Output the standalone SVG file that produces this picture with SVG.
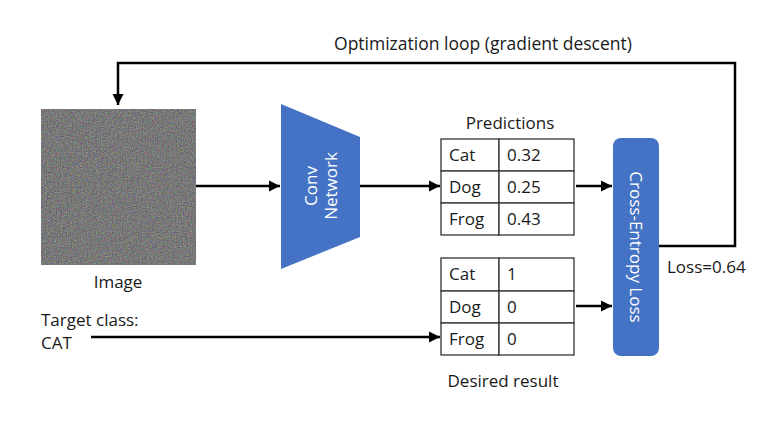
<svg xmlns="http://www.w3.org/2000/svg" width="782" height="437" viewBox="0 0 782 437">
<defs>
<style>
text{font-family:"Open Sans","Noto Sans",sans-serif;font-size:17px;fill:#1a1a1a}
.big{font-size:17.5px}
.w{fill:#fff}
.cell{fill:#fff;stroke:#333;stroke-width:1.3}
.ln{fill:none;stroke:#000;stroke-width:2.5}
.blue{fill:#4472C4}
</style>
<marker id="ah" viewBox="0 0 10 10" refX="10" refY="5" markerWidth="4.6" markerHeight="4.6" orient="auto" markerUnits="strokeWidth">
<path d="M0,0 L10,5 L0,10 z" fill="#000"/>
</marker>
<filter id="noise" x="0" y="0" width="100%" height="100%" color-interpolation-filters="sRGB">
<feTurbulence type="fractalNoise" baseFrequency="0.8" numOctaves="2" seed="3" result="t"/>
<feColorMatrix in="t" type="matrix" values="0.5 0 0 0 0.22  0 0.5 0 0 0.22  0 0 0.5 0 0.22  0 0 0 0 1"/>
</filter>
</defs>
<rect width="782" height="437" fill="#fff"/>
<text class="big" x="483" y="50" text-anchor="middle">Optimization loop (gradient descent)</text>
<g id="image">
<rect x="41" y="109" width="155" height="156" fill="#7a7a7a"/>
<rect x="41" y="109" width="155" height="156" filter="url(#noise)"/>
<text x="118" y="288" text-anchor="middle">Image</text>
</g>
<g id="conv">
<polygon class="blue" points="281,104 360,137 360,237 281,269"/>
<text class="w" transform="translate(320,186) rotate(-90)" text-anchor="middle"><tspan x="0" y="-3">Conv</tspan><tspan x="0" y="17">Network</tspan></text>
</g>
<g id="predictions">
<text x="510" y="129" text-anchor="middle">Predictions</text>
<rect class="cell" x="441" y="139" width="58" height="32"/><rect class="cell" x="499" y="139" width="75" height="32"/>
<rect class="cell" x="441" y="171" width="58" height="32"/><rect class="cell" x="499" y="171" width="75" height="32"/>
<rect class="cell" x="441" y="203" width="58" height="32"/><rect class="cell" x="499" y="203" width="75" height="32"/>
<text x="449" y="161">Cat</text><text x="507" y="161">0.32</text>
<text x="449" y="193">Dog</text><text x="507" y="193">0.25</text>
<text x="449" y="225">Frog</text><text x="507" y="225">0.43</text>
</g>
<g id="desired">
<rect class="cell" x="441" y="258" width="58" height="33"/><rect class="cell" x="499" y="258" width="75" height="33"/>
<rect class="cell" x="441" y="291" width="58" height="32"/><rect class="cell" x="499" y="291" width="75" height="32"/>
<rect class="cell" x="441" y="323" width="58" height="32"/><rect class="cell" x="499" y="323" width="75" height="32"/>
<text x="449" y="280">Cat</text><text x="507" y="280">1</text>
<text x="449" y="313">Dog</text><text x="507" y="313">0</text>
<text x="449" y="345">Frog</text><text x="507" y="345">0</text>
<text x="503" y="387" text-anchor="middle">Desired result</text>
</g>
<g id="loss">
<rect class="blue" x="613" y="138" width="46" height="218" rx="8"/>
<text class="w" transform="translate(636,247) rotate(90)" text-anchor="middle" y="6">Cross-Entropy Loss</text>
<text x="667" y="273">Loss=0.64</text>
</g>
<g id="target">
<text x="41" y="326">Target class:</text>
<text x="41" y="349">CAT</text>
</g>
<g id="connectors">
<polyline class="ln" points="659,246 735,246 735,63 118,63 118,105" marker-end="url(#ah)"/>
<line class="ln" x1="196" y1="186" x2="280" y2="186" marker-end="url(#ah)"/>
<line class="ln" x1="360" y1="186" x2="440" y2="186" marker-end="url(#ah)"/>
<line class="ln" x1="576" y1="186" x2="612" y2="186" marker-end="url(#ah)"/>
<line class="ln" x1="576" y1="306" x2="612" y2="306" marker-end="url(#ah)"/>
<line class="ln" x1="91" y1="337" x2="440" y2="337" marker-end="url(#ah)"/>
</g>
</svg>
